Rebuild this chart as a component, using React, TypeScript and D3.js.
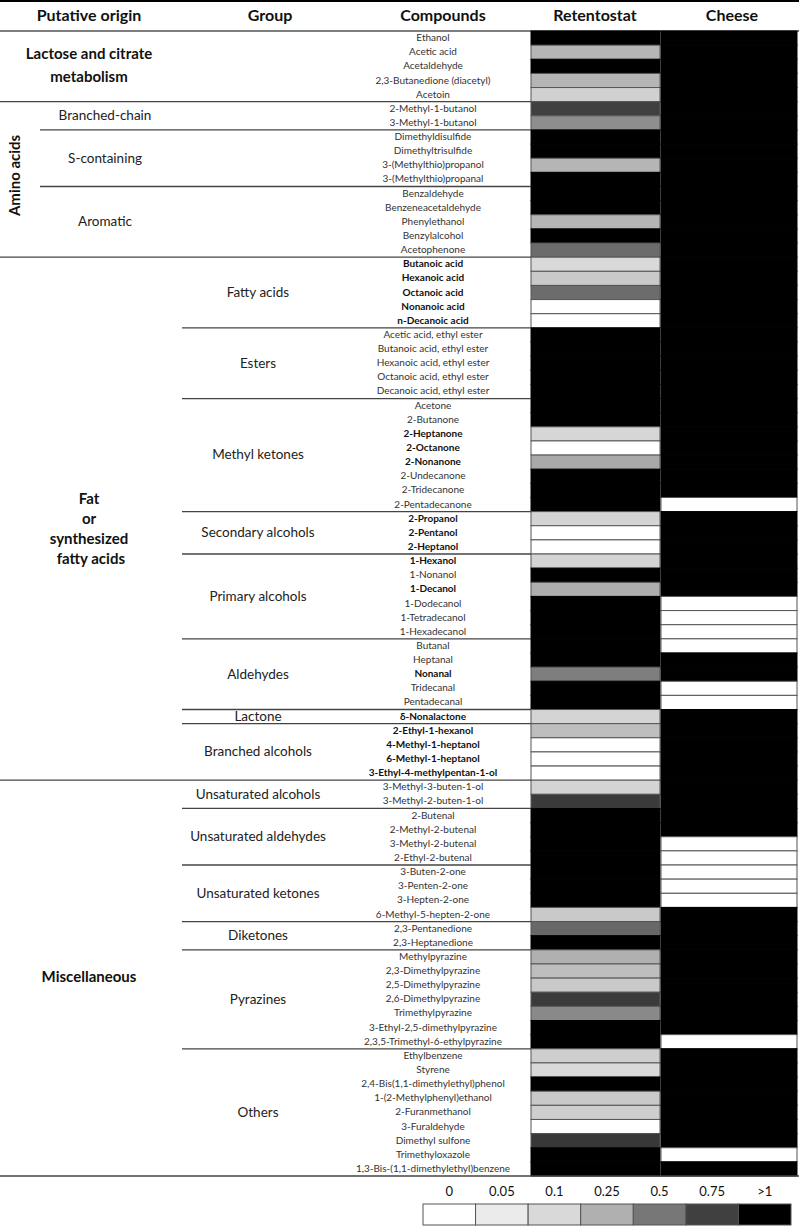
import React from 'react'
import * as d3 from 'd3'

// compounds, top to bottom
const compounds = [
  'Ethanol', 'Acetic acid', 'Acetaldehyde', '2,3-Butanedione (diacetyl)', 'Acetoin',
  '2-Methyl-1-butanol', '3-Methyl-1-butanol',
  'Dimethyldisulfide', 'Dimethyltrisulfide', '3-(Methylthio)propanol', '3-(Methylthio)propanal',
  'Benzaldehyde', 'Benzeneacetaldehyde', 'Phenylethanol', 'Benzylalcohol', 'Acetophenone',
  'Butanoic acid', 'Hexanoic acid', 'Octanoic acid', 'Nonanoic acid', 'n-Decanoic acid',
  'Acetic acid, ethyl ester', 'Butanoic acid, ethyl ester', 'Hexanoic acid, ethyl ester', 'Octanoic acid, ethyl ester', 'Decanoic acid, ethyl ester',
  'Acetone', '2-Butanone', '2-Heptanone', '2-Octanone', '2-Nonanone', '2-Undecanone', '2-Tridecanone', '2-Pentadecanone',
  '2-Propanol', '2-Pentanol', '2-Heptanol',
  '1-Hexanol', '1-Nonanol', '1-Decanol', '1-Dodecanol', '1-Tetradecanol', '1-Hexadecanol',
  'Butanal', 'Heptanal', 'Nonanal', 'Tridecanal', 'Pentadecanal',
  'δ-Nonalactone',
  '2-Ethyl-1-hexanol', '4-Methyl-1-heptanol', '6-Methyl-1-heptanol', '3-Ethyl-4-methylpentan-1-ol',
  '3-Methyl-3-buten-1-ol', '3-Methyl-2-buten-1-ol',
  '2-Butenal', '2-Methyl-2-butenal', '3-Methyl-2-butenal', '2-Ethyl-2-butenal',
  '3-Buten-2-one', '3-Penten-2-one', '3-Hepten-2-one', '6-Methyl-5-hepten-2-one',
  '2,3-Pentanedione', '2,3-Heptanedione',
  'Methylpyrazine', '2,3-Dimethylpyrazine', '2,5-Dimethylpyrazine', '2,6-Dimethylpyrazine', 'Trimethylpyrazine', '3-Ethyl-2,5-dimethylpyrazine', '2,3,5-Trimethyl-6-ethylpyrazine',
  'Ethylbenzene', 'Styrene', '2,4-Bis(1,1-dimethylethyl)phenol', '1-(2-Methylphenyl)ethanol', '2-Furanmethanol', '3-Furaldehyde', 'Dimethyl sulfone', 'Trimethyloxazole', '1,3-Bis-(1,1-dimethylethyl)benzene',
]

const boldCompounds = [
  'Butanoic acid', 'Hexanoic acid', 'Octanoic acid', 'Nonanoic acid', 'n-Decanoic acid',
  '2-Heptanone', '2-Octanone', '2-Nonanone',
  '2-Propanol', '2-Pentanol', '2-Heptanol',
  '1-Hexanol', '1-Decanol', 'Nonanal', 'δ-Nonalactone',
  '2-Ethyl-1-hexanol', '4-Methyl-1-heptanol', '6-Methyl-1-heptanol', '3-Ethyl-4-methylpentan-1-ol',
]

// ratios, 1.5 = ">1"
const retentostat = [
  1.5, 0.23, 1.5, 0.23, 0.13,
  0.75, 0.4,
  1.5, 1.5, 0.23, 1.5,
  1.5, 1.5, 0.23, 1.5, 0.55,
  0.1, 0.16, 0.55, 0, 0,
  1.5, 1.5, 1.5, 1.5, 1.5,
  1.5, 1.5, 0.11, 0, 0.28, 1.5, 1.5, 1.5,
  0.12, 0, 0,
  0.12, 1.5, 0.26, 1.5, 1.5, 1.5,
  1.5, 1.5, 0.47, 1.5, 1.5,
  0.12,
  0.2, 0, 0, 0,
  0.12, 0.77,
  1.5, 1.5, 1.5, 1.5,
  1.5, 1.5, 1.5, 0.16,
  0.57, 1.5,
  0.25, 0.2, 0.16, 0.77, 0.42, 1.5, 1.5,
  0.14, 0.1, 1.5, 0.16, 0.14, 0, 0.78, 1.5, 1.5,
]

const cheese = [
  1.5, 1.5, 1.5, 1.5, 1.5,
  1.5, 1.5,
  1.5, 1.5, 1.5, 1.5,
  1.5, 1.5, 1.5, 1.5, 1.5,
  1.5, 1.5, 1.5, 1.5, 1.5,
  1.5, 1.5, 1.5, 1.5, 1.5,
  1.5, 1.5, 1.5, 1.5, 1.5, 1.5, 1.5, 0,
  1.5, 1.5, 1.5,
  1.5, 1.5, 1.5, 0, 0, 0,
  0, 1.5, 1.5, 0, 0,
  1.5,
  1.5, 1.5, 1.5, 1.5,
  1.5, 1.5,
  1.5, 1.5, 0, 0,
  0, 0, 0, 1.5,
  1.5, 1.5,
  1.5, 1.5, 1.5, 1.5, 1.5, 1.5, 0,
  1.5, 1.5, 1.5, 1.5, 1.5, 1.5, 1.5, 0, 1.5,
]

const originNames = [
  ['Lactose and citrate', 'metabolism'],
  ['Amino acids'],
  ['Fat', 'or', 'synthesized', ' fatty acids'],
  ['Miscellaneous'],
]
const originSizes = [5, 11, 37, 28]

const groupNames = [
  '', 'Branched-chain', 'S-containing', 'Aromatic',
  'Fatty acids', 'Esters', 'Methyl ketones', 'Secondary alcohols', 'Primary alcohols', 'Aldehydes', 'Lactone', 'Branched alcohols',
  'Unsaturated alcohols', 'Unsaturated aldehydes', 'Unsaturated ketones', 'Diketones', 'Pyrazines', 'Others',
]
const groupSizes = [5, 2, 4, 5, 5, 5, 8, 3, 6, 5, 1, 4, 2, 4, 4, 2, 7, 9]

const headers = ['Putative origin', 'Group', 'Compounds', 'Retentostat', 'Cheese']

const legendLabels = ['0', '0.05', '0.1', '0.25', '0.5', '0.75', '>1']
const legendStops = [0, 0.05, 0.1, 0.25, 0.5, 0.75, 1]
const legendColors = ['#ffffff', '#ebebeb', '#d9d9d9', '#b0b0b0', '#777777', '#404040', '#000000']

const W = 799
const H = 1229
const FONT = "Lato, 'Open Sans', sans-serif"

export default function App() {
  const n = compounds.length
  const y = d3.scaleLinear().domain([0, n]).range([31, 1176])
  const rowH = y(1) - y(0)
  const color = d3.scaleLinear<string>().domain(legendStops).range(legendColors).clamp(true)

  const cols = d3.scaleOrdinal<string, number>().domain(headers).range([89, 270, 443, 595, 732])
  const cellX = { Retentostat: [531, 660], Cheese: [661, 797] }

  const originEnds = d3.cumsum(originSizes)
  const originStarts = originEnds.map((e, i) => e - originSizes[i])
  const groupEnds = d3.cumsum(groupSizes)
  const groupStarts = groupEnds.map((e, i) => e - groupSizes[i])
  const originOf = (row: number) => originEnds.findIndex(e => row < e)

  const legendX = d3.scaleBand().domain(legendLabels).range([423, 791])

  return (
    <svg width={W} height={H} style={{ position: 'absolute', left: 0, top: 0, background: '#fff' }}
      fontFamily={FONT}>
      {/* header */}
      <line x1={0} x2={W} y1={1} y2={1} stroke="#000" strokeWidth={2} />
      {headers.map(h => (
        <text key={h} x={cols(h)} y={17} textAnchor="middle" dominantBaseline="middle"
          fontWeight="bold" fontSize={16} fill="#111">{h}</text>
      ))}
      <line x1={0} x2={W} y1={31} y2={31} stroke="#555" strokeWidth={1.5} />

      {/* cells */}
      {compounds.map((c, i) => (
        <g key={c}>
          {(['Retentostat', 'Cheese'] as const).map(col => {
            const v = col === 'Retentostat' ? retentostat[i] : cheese[i]
            const [x0, x1] = cellX[col]
            return <rect key={col} x={x0} y={y(i)} width={x1 - x0} height={rowH}
              fill={color(v)} stroke={v >= 1 ? '#000' : '#555'} strokeWidth={1} />
          })}
          <text x={433} y={y(i) + rowH / 2 + 0.5} textAnchor="middle" dominantBaseline="middle"
            fontSize={10} fontWeight={boldCompounds.includes(c) ? 'bold' : 'normal'}
            fill={boldCompounds.includes(c) ? '#111' : '#333'}>{c}</text>
        </g>
      ))}

      {/* group separators and labels */}
      {groupNames.map((g, i) => {
        const s = groupStarts[i], e = groupEnds[i]
        const o = originOf(s)
        const amino = o === 1
        const isOriginEnd = originEnds.includes(e)
        return (
          <g key={'g' + i}>
            {g && <text x={amino ? 105 : 258} y={(y(s) + y(e)) / 2 + 1} textAnchor="middle"
              dominantBaseline="middle" fontSize={13.5} fill="#222">{g}</text>}
            {!isOriginEnd && <line x1={amino ? 40 : 182} x2={531} y1={y(e)} y2={y(e)}
              stroke="#444" strokeWidth={1.3} />}
          </g>
        )
      })}

      {/* origin separators and labels */}
      {originNames.map((lines, i) => {
        const s = originStarts[i], e = originEnds[i]
        const cy = (y(s) + y(e)) / 2
        const last = i === originNames.length - 1
        if (i === 1) {
          return (
            <g key={'o' + i}>
              <text transform={`translate(16,${cy - 4}) rotate(-90)`} textAnchor="middle"
                dominantBaseline="middle" fontWeight="bold" fontSize={15} fill="#111">{lines[0]}</text>
              <line x1={0} x2={531} y1={y(e)} y2={y(e)} stroke="#444" strokeWidth={1.3} />
            </g>
          )
        }
        const lh = lines.length > 2 ? 20 : 23
        const off = lines.length > 2 ? 11 : 0
        return (
          <g key={'o' + i}>
            {lines.map((l, k) => (
              <text key={k} x={89} y={cy + off + (k - (lines.length - 1) / 2) * lh} textAnchor="middle"
                dominantBaseline="middle" fontWeight="bold" fontSize={15} fill="#111"
                style={{ whiteSpace: 'pre' }}>{l}</text>
            ))}
            <line x1={0} x2={last ? W : 531} y1={y(e)} y2={y(e)} stroke="#444" strokeWidth={1.3} />
          </g>
        )
      })}

      {/* legend */}
      {legendLabels.map((l, i) => (
        <g key={'l' + l}>
          <text x={legendX(l)! + legendX.bandwidth() / 2} y={1193} textAnchor="middle"
            dominantBaseline="middle" fontSize={13} fill="#111">{l}</text>
          <rect x={legendX(l)} y={1204} width={legendX.bandwidth()} height={21}
            fill={color(legendStops[i])} stroke="#555" strokeWidth={1} />
        </g>
      ))}
    </svg>
  )
}
